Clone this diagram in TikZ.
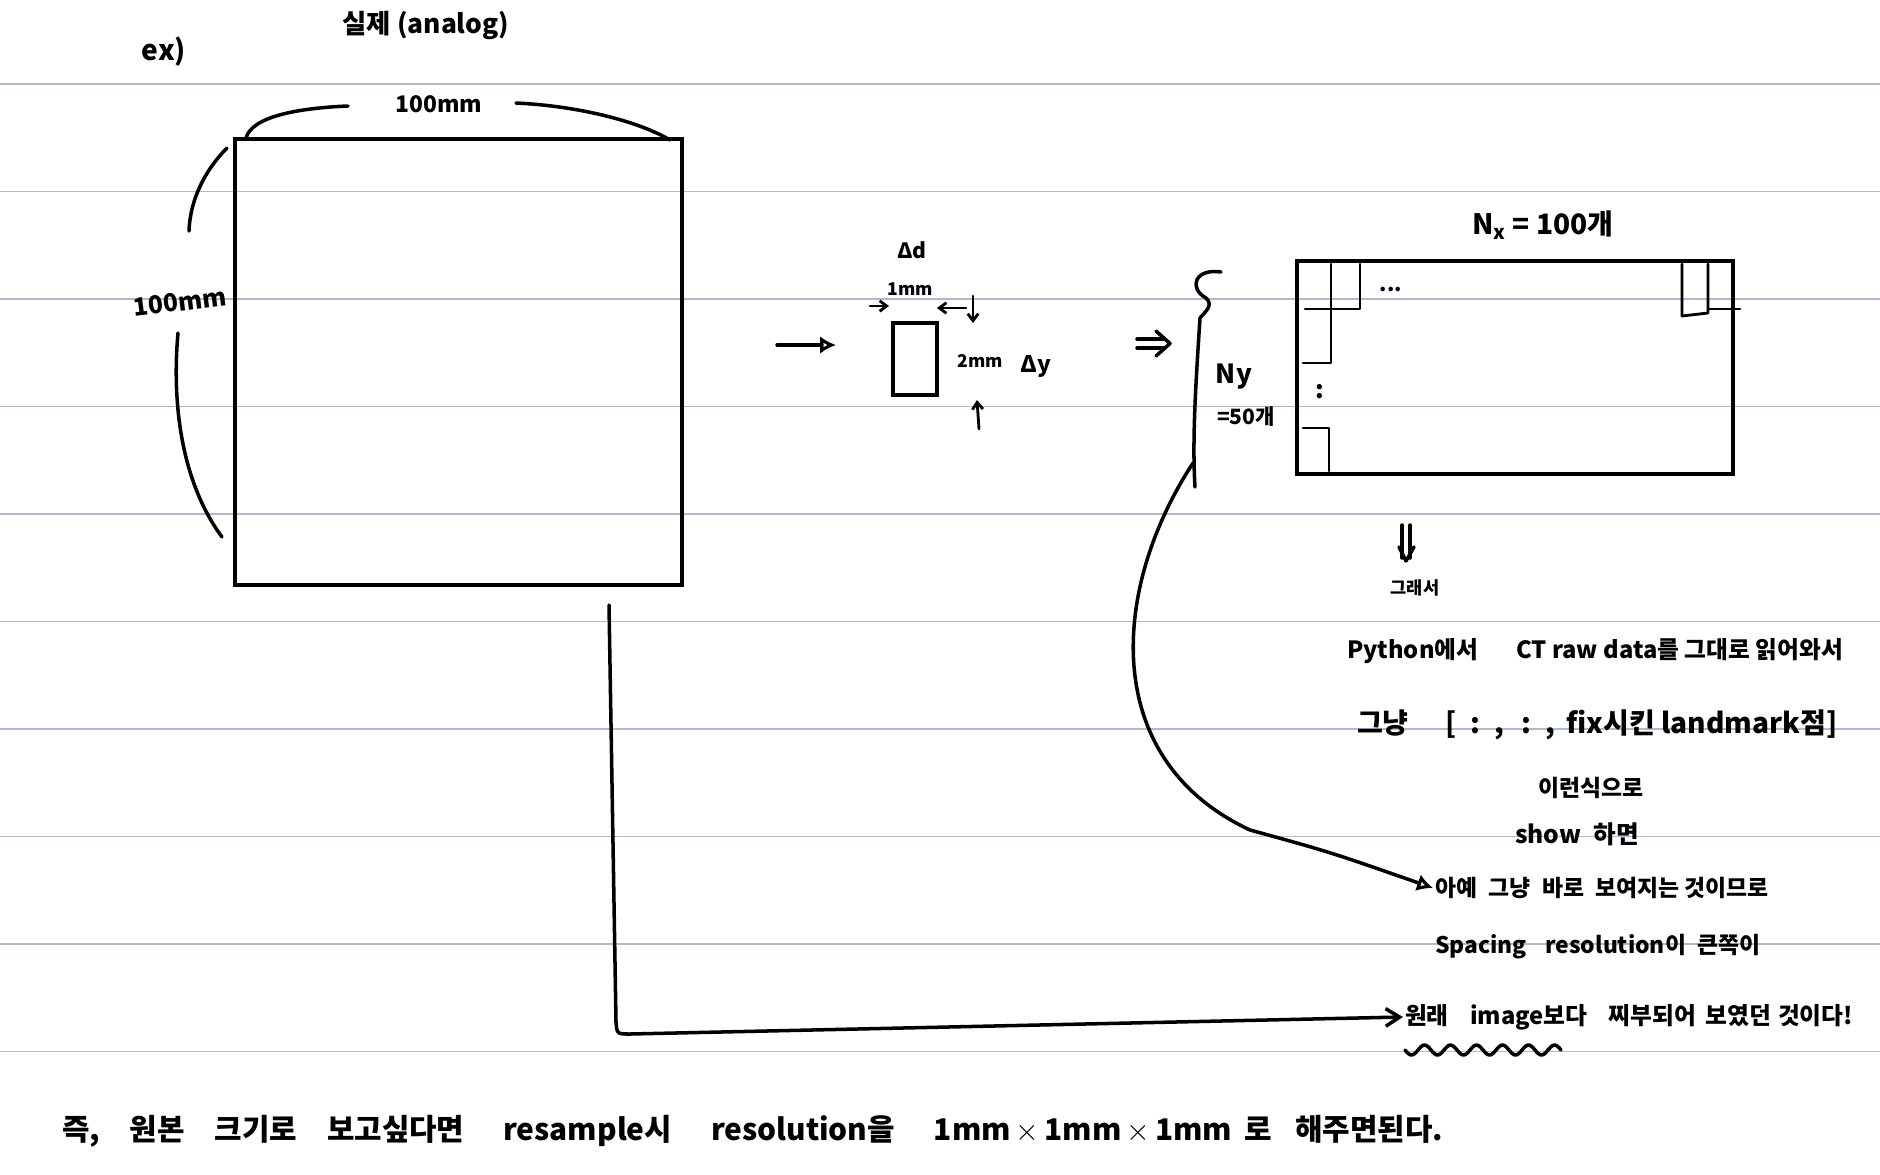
\documentclass[tikz,border=0pt]{standalone}
\usepackage{fontspec}
\newfontfamily\hand{Noto Sans CJK KR}
\usepackage{tikz}
\usetikzlibrary{arrows.meta, calc}
\definecolor{rulecol}{RGB}{172,186,212}
\tikzset{
  ink/.style  = {line width=2pt, line cap=round, line join=round},
  box/.style  = {rectangle, draw, line width=2pt, inner sep=0pt},
  txt/.style  = {font=\hand\bfseries\fontsize{#1}{#1}\selectfont, inner sep=1pt},
  harr/.style = {ink, -{Straight Barb[length=8pt, width=10pt]}},
  darr/.style = {ink, -{Latex[open, length=9pt, width=10pt]}},
  tarr/.style = {line width=1.6pt, line cap=round,
                 -{Straight Barb[length=4pt, width=6pt]}},
  cell/.style = {line width=1.6pt, line cap=round, line join=round},
  rule/.style = {rulecol, line width=1.1pt},
}
\newcommand{\gap}[1][0.9em]{\hspace{#1}}

\begin{document}
\begin{tikzpicture}[x=0.02cm, y=-0.02cm]
  \useasboundingbox (0,0) rectangle (1880,1174);
  \fill[white] (0,0) rectangle (1880,1174);
  % note paper lines
  \foreach \k in {0,...,9}
    \draw[rule] (0,{84+107.5*\k}) -- (1880,{84+107.5*\k});

  % real object
  \node[txt=16] (ex) at (164,52) {ex)};
  \node[txt=15] (analog) at (426,26) {실제 (analog)};
  \node[box, minimum width=8.94cm, minimum height=8.92cm] (obj) at (458.5,362) {};
  \node[txt=13] (wTop) at (439,104) {100mm};
  \draw[ink] (246,138) .. controls (252,116) and (300,108) .. (348,106);
  \draw[ink] (516,103) .. controls (580,106) and (640,122) .. (670,140);
  \node[txt=14, rotate=7] (hLeft) at (180,302) {100mm};
  \draw[ink] (227,148) .. controls (205,170) and (190,200) .. (189,231);
  \draw[ink] (178,333) .. controls (172,400) and (180,480) .. (222,537);

  % one voxel
  \draw[darr] (777,345) -- (836,345);
  \node[box, minimum width=0.88cm, minimum height=1.44cm] (voxel) at (915,359) {};
  \node[txt=12] (dd) at (912,250) {Δd};
  \node[txt=10] (oneMm) at (910,289) {1mm};
  \draw[tarr] (870,306) -- (889,306);
  \draw[tarr] (966,308) -- (937,308);
  \draw[tarr] (973,296) -- (973,323);
  \draw[tarr] (979,429) -- (977,400);
  \node[txt=10] (twoMm) at (980,361) {2mm};
  \node[txt=13] (dy) at (1036,366) {Δy};

  % pixel grid
  \draw[ink] (1137,339) -- (1164,339);
  \draw[ink] (1137,348) -- (1164,348);
  \draw[ink] (1156,331) -- (1170,343.5) -- (1156,356);
  \node[box, minimum width=8.72cm, minimum height=4.26cm] (grid) at (1515,367.5) {};
  \node[txt=16] (nx) at (1543,225) {N\textsubscript{x} = 100개};
  \draw[cell] (1331,264) -- (1331,309) -- (1360,309) -- (1360,264);
  \draw[cell] (1305,309) -- (1331,309) -- (1331,363) -- (1303,363);
  \draw[cell] (1303,428) -- (1329,428) -- (1329,471);
  \draw[cell] (1682,264) -- (1682,316) -- (1708,313) -- (1708,264);
  \draw[cell] (1708,309) -- (1740,309);
  \node[txt=12] (hdots) at (1391,289) {...};
  \node[txt=14] (vdots) at (1320,392) {:};
  \draw[ink] (1221,272) .. controls (1195,268) and (1188,288) .. (1206,298)
    .. controls (1214,305) and (1205,312) .. (1200,318)
    .. controls (1196,380) and (1192,440) .. (1195,487);
  \node[txt=15] (ny) at (1234,377) {Ny};
  \node[txt=12] (nyVal) at (1246,417) {=50개};

  % explanation
  \draw[ink] (1402,525) -- (1402,558);
  \draw[ink] (1410,525) -- (1410,558);
  \draw[ink] (1399,547) -- (1406,561) -- (1414,547);
  \node[txt=10] (soThat) at (1415,588) {그래서};
  \node[txt=13.5, anchor=west] (line1) at (1345,651)
    {Python에서\gap[1.6em]CT raw data를 그대로 읽어와서};
  \node[txt=16, anchor=west] (line2) at (1355,725)
    {그냥\gap[1.3em][\gap[0.5em]:\gap[0.5em],\gap[0.6em]:\gap[0.5em],\gap[0.4em]fix시킨 landmark점]};
  \node[txt=13] (line3) at (1591,788) {이런식으로};
  \node[txt=14] (line4) at (1577,834) {show\gap[0.5em]하면};
  \node[txt=13, anchor=west] (line5) at (1433,888)
    {아예\gap[0.5em]그냥\gap[0.5em]바로\gap[0.5em]보여지는 것이므로};
  \node[txt=13, anchor=west] (line6) at (1433,947)
    {Spacing\gap[0.8em]resolution이\gap[0.5em]큰쪽이};
  \node[txt=13.5, anchor=west] (line7) at (1403,1017)
    {원래\gap[0.9em]image보다\gap[0.9em]찌부되어\gap[0.4em]보였던\gap[0.3em]것이다!};
  \draw[ink, domain=0:6, samples=90] plot ({1405+26*\x},{1050+5*sin(\x*360)});

  % connectors
  \draw[darr] (1193,463) .. controls (1110,590) and (1100,760) .. (1250,830)
    .. controls (1330,852) .. (line5.west);
  \draw[harr] (609,605) -- (616,1022) .. controls (617,1034) .. (630,1034)
    -- (line7.west);

  \node[txt=17, anchor=west] (summary) at (60,1131)
    {즉,\gap[1em]원본\gap[1em]크기로\gap[1em]보고싶다면\gap[1.3em]resample시\gap[1.3em]resolution을\gap[1.3em]1mm\,$\times$\,1mm\,$\times$\,1mm\gap[0.4em]로\gap[0.8em]해주면된다.};
\end{tikzpicture}
\end{document}
